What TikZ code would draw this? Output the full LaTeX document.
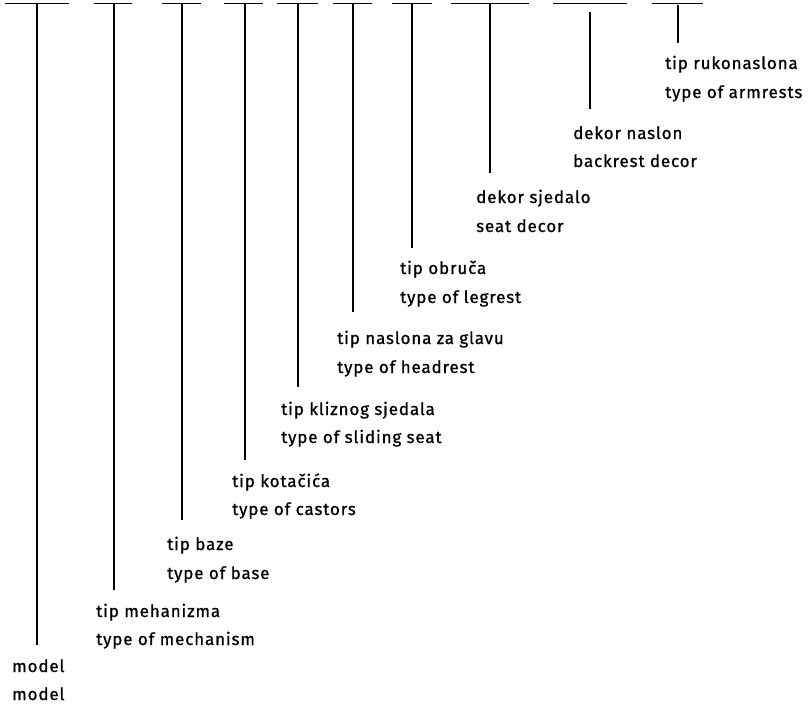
\documentclass[tikz,border=0pt]{standalone}
\usepackage{fontspec}
\setmainfont{Fira Sans}[LetterSpace=5.0,FakeBold=0.8]
\begin{document}
\begin{tikzpicture}[x=1pt,y=-1pt,
  bar/.style={line width=1.3pt,black},
  stem/.style={line width=1.2pt,black},
  lbl/.style={anchor=base west,inner sep=0pt,font=\fontsize{17}{20}\selectfont}]
\useasboundingbox (0,0) rectangle (808,704);
% items: bar x1, bar x2, stem x, stem start, stem end, text x, baseline1, baseline2, line1, line2
\foreach \n/\xa/\xb/\xs/\ya/\yb/\xt/\ba/\bb/\ta/\tb in {
  a/5/69/37/4/645/12/672/700/model/model,
  b/94/132/114/4/590/96/617/645/tip mehanizma/type of mechanism,
  c/162/201/182/4/520/167/550/579/tip baze/type of base,
  d/224/263/245/4/460/232/487/515/tip kotačića/type of castors,
  e/277/318/298/4/387/281/415/443/tip kliznog sjedala/type of sliding seat,
  f/333/372/353/4/312/337/344/373/tip naslona za glavu/type of headrest,
  g/392/432/412/4/248/400/274/303/tip obruča/type of legrest,
  h/451/529/490/4/173/476/203/232/dekor sjedalo/seat decor,
  i/553/627/590/12/109/573/139/167/dekor naslon/backrest decor,
  j/652/703/678/5/43/665/69/98/tip rukonaslona/type of armrests}
{
  \coordinate (\n L) at (\xa,3.5);
  \coordinate (\n R) at (\xb,3.5);
  \coordinate (\n S) at (\xs,\ya);
  \coordinate (\n E) at (\xs,\yb);
  \draw[bar] (\n L) -- (\n R);
  \draw[stem] (\n S) -- (\n E);
  \node[lbl] (\n 1) at (\xt,\ba) {\ta};
  \node[lbl] (\n 2) at (\xt,\bb) {\tb};
}
\end{tikzpicture}
\end{document}
